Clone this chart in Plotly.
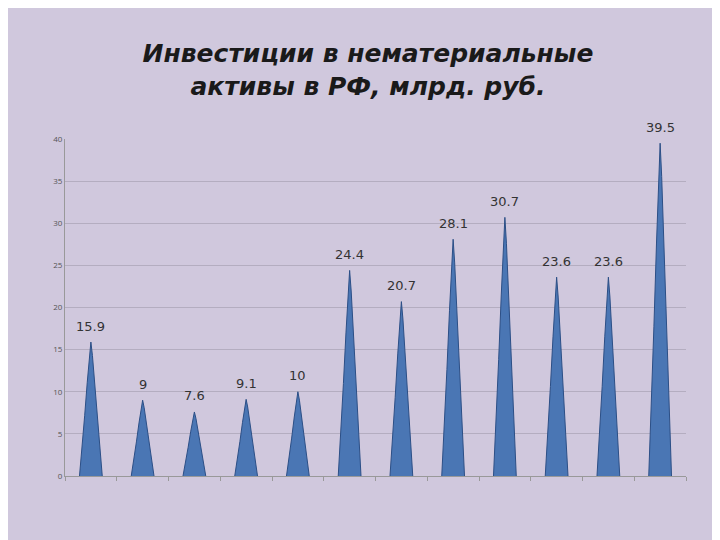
import plotly.graph_objects as go

values = [15.9, 9, 7.6, 9.1, 10, 24.4, 20.7, 28.1, 30.7, 23.6, 23.6, 39.5]
labels = ["15.9", "9", "7.6", "9.1", "10", "24.4", "20.7", "28.1", "30.7", "23.6", "23.6", "39.5"]
yticks = [0, 5, 10, 15, 20, 25, 30, 35, 40]

# cone profile: (half width, fraction of height)
profile = [(0.22, 0), (0.17, 0.2), (0.12, 0.45), (0.07, 0.7), (0.03, 0.9), (0, 1)]

fig = go.Figure()
for i, v in enumerate(values):
    xs = [i - w for w, f in profile] + [i + w for w, f in reversed(profile)]
    ys = [v * f for w, f in profile] + [v * f for w, f in reversed(profile)]
    fig.add_trace(go.Scatter(x=xs, y=ys, fill="toself", mode="lines",
                             fillcolor="#4a76b4", line=dict(color="#2c4f86", width=1),
                             showlegend=False, hoverinfo="skip"))
    fig.add_annotation(x=i, y=v, text=labels[i], showarrow=False, yshift=16,
                       font=dict(size=13, color="#333333", family="DejaVu Sans"))

fig.update_layout(
    width=720, height=540,
    paper_bgcolor="#d0c8dd", plot_bgcolor="#d0c8dd",
    margin=dict(l=57, r=42, t=131, b=72),
    title=dict(text="<b><i>Инвестиции в нематериальные<br>активы в РФ, млрд. руб.</i></b>",
               x=0.5, y=0.9, xanchor="center", yanchor="middle",
               font=dict(size=25, color="#1a1a1a", family="DejaVu Sans")),
    xaxis=dict(range=[-0.5, 11.5], showticklabels=False, showgrid=False,
               zeroline=False, showline=True, linecolor="#999999",
               ticks="outside", tickvals=[i + 0.5 for i in range(-1, 12)],
               tickcolor="#999999", ticklen=4),
    yaxis=dict(range=[0, 40], tickvals=yticks, showgrid=True, gridcolor="#b4adc0",
               zeroline=False, tickfont=dict(size=8, color="#555555"),
               showline=True, linecolor="#999999"),
)
fig.write_html("out.html")
